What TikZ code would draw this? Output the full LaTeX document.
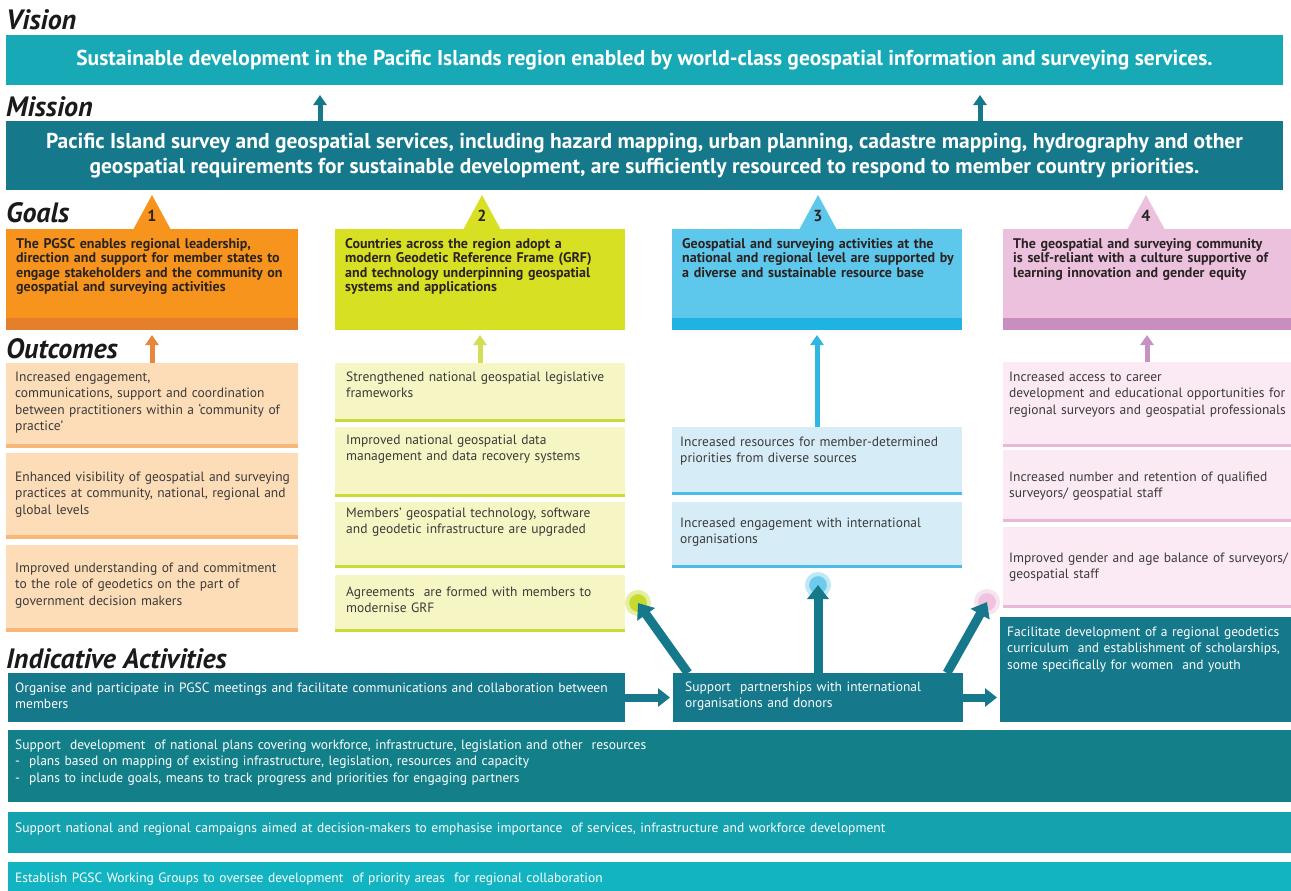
\documentclass[tikz,border=0pt]{standalone}
\usepackage{fontspec}
\setmainfont{PT Sans}
\usetikzlibrary{calc,arrows.meta}

\definecolor{visionteal}{HTML}{17A9B6}
\definecolor{missionteal}{HTML}{15788B}
\definecolor{planteal}{HTML}{138089}
\definecolor{campaignteal}{HTML}{14A2AF}
\definecolor{groupteal}{HTML}{13B4C2}
\definecolor{headink}{HTML}{1A1A1A}
\definecolor{goalink}{HTML}{2B2321}
\definecolor{outink}{HTML}{3C3A3A}
% orange column
\definecolor{orgoal}{HTML}{F7941D}
\definecolor{orstripe}{HTML}{E57F2B}
\definecolor{orfill}{HTML}{FCDDB8}
\definecolor{orline}{HTML}{F8B678}
\definecolor{orarrow}{HTML}{E8873A}
% yellow column
\definecolor{yegoal}{HTML}{D8E024}
\definecolor{yefill}{HTML}{F6F5C4}
\definecolor{yeline}{HTML}{CADB35}
\definecolor{yearrow}{HTML}{D2DE55}
\definecolor{yeglow}{HTML}{C8DA2E}
% blue column
\definecolor{blgoal}{HTML}{5DC7EC}
\definecolor{blstripe}{HTML}{1FB3E4}
\definecolor{blfill}{HTML}{D6EDF7}
\definecolor{blline}{HTML}{4CBDE4}
\definecolor{blarrow}{HTML}{2FB6E1}
\definecolor{blglow}{HTML}{6FCBEB}
% pink column
\definecolor{pigoal}{HTML}{EBC1DD}
\definecolor{pistripe}{HTML}{C98EC0}
\definecolor{pifill}{HTML}{FBEAF3}
\definecolor{piline}{HTML}{E8B9D6}
\definecolor{piarrow}{HTML}{C891C4}
\definecolor{piglow}{HTML}{EFC3DD}

\tikzset{up arrow/.style={line width=5pt,-{Triangle[width=13pt,length=10pt]}},
         big arrow/.style={line width=9pt,missionteal,-{Triangle[width=21pt,length=14pt]}},
         side arrow/.style={line width=8pt,missionteal,-{Triangle[width=18pt,length=12pt]}}}

\begin{document}
\begin{tikzpicture}[x=1pt,y=-1pt,
    heading/.style={anchor=base west,inner sep=0,text=headink,font=\fontsize{28}{28}\selectfont\bfseries\itshape},
    panel/.style 2 args={anchor=north west,inner sep=0,outer sep=0,minimum width=#1,minimum height=#2},
    goaltext/.style={anchor=base west,inner sep=0,text width=285pt,align=left,text=goalink,font=\fontsize{14}{14.5}\selectfont\bfseries},
    outtext/.style={anchor=base west,inner sep=0,text width=285pt,align=left,text=outink,font=\fontsize{13.5}{16.5}\selectfont},
    acttext/.style={anchor=base west,inner sep=0,text width=1250pt,align=left,text=white,font=\fontsize{13.5}{16.5}\selectfont},
    tabnum/.style={inner sep=0,text=goalink,font=\fontsize{16}{16}\selectfont\bfseries},
    glow/.style={circle,inner sep=0,minimum size=22pt,line width=4pt}]

\fill[white] (0,0) rectangle (1291,891);
\useasboundingbox (0,0) rectangle (1291,891);

% vision and mission
\node[heading] (VisionHead) at (6,30) {Vision};
\node[panel={1277pt}{50pt},fill=visionteal,text=white,font=\fontsize{21.5}{22}\selectfont\bfseries] (Vision) at (6,35)
  {Sustainable development in the Pacific Islands region enabled by world-class geospatial information and surveying services.};
\node[heading] (MissionHead) at (6,116) {Mission};
\node[panel={1277pt}{69pt},fill=missionteal,text=white,align=center,font=\fontsize{21.5}{25}\selectfont\bfseries] (Mission) at (6,121)
  {Pacific Island survey and geospatial services, including hazard mapping, urban planning, cadastre mapping, hydrography and other\\
   geospatial requirements for sustainable development, are sufficiently resourced to respond to member country priorities.};
\coordinate (VisionInA) at (320,95);
\coordinate (VisionInB) at (980,95);
\draw[up arrow,missionteal] (Mission.north -| VisionInA) -- (VisionInA);
\draw[up arrow,missionteal] (Mission.north -| VisionInB) -- (VisionInB);

% goals
\node[heading] (GoalsHead) at (6,222) {Goals};
\foreach \cx/\col/\num in {152/orgoal/1, 482/yegoal/2, 818/blgoal/3, 1146/pigoal/4}
  {\fill[\col] (\cx,195) -- (\cx-19,230) -- (\cx+19,230) -- cycle;
   \node[tabnum] (Tab\num) at (\cx,216) {\num};}

\node[panel={292pt}{101pt},fill=orgoal] (GoalA) at (6,229) {};
\node[panel={290pt}{101pt},fill=yegoal] (GoalB) at (335,229) {};
\node[panel={290pt}{101pt},fill=blgoal] (GoalC) at (672,229) {};
\node[panel={288pt}{101pt},fill=pigoal] (GoalD) at (1003,229) {};
\fill[orstripe] (GoalA.south west) rectangle ($(GoalA.south east)+(0,-12)$);
\fill[blstripe] (GoalC.south west) rectangle ($(GoalC.south east)+(0,-12)$);
\fill[pistripe] (GoalD.south west) rectangle ($(GoalD.south east)+(0,-12)$);

\node[goaltext] (GoalAText) [shift={(10,19)}] at (GoalA.north west)
  {The PGSC enables regional leadership,\\direction and support for member states to\\engage stakeholders and the community on\\geospatial and surveying activities};
\node[goaltext] (GoalBText) [shift={(10,19)}] at (GoalB.north west)
  {Countries across the region adopt a\\modern Geodetic Reference Frame (GRF)\\and technology underpinning geospatial\\systems and applications};
\node[goaltext] (GoalCText) [shift={(10,19)}] at (GoalC.north west)
  {Geospatial and surveying activities at the\\national and regional level are supported by\\a diverse and sustainable resource base};
\node[goaltext] (GoalDText) [shift={(10,19)}] at (GoalD.north west)
  {The geospatial and surveying community\\is self-reliant with a culture supportive of\\learning innovation and gender equity};

% outcomes
\node[heading] (OutcomesHead) at (6,358) {Outcomes};

\foreach \n/\top/\ht/\tb/\txt in {
   1/363/85/18/{Increased engagement,\\communications, support and coordination\\between practitioners within a `community of\\practice'},
   2/453/86/28/{Enhanced visibility of geospatial and surveying\\practices at community, national, regional and\\global levels},
   3/545/87/27/{Improved understanding of and commitment\\to the role of geodetics on the part of\\government decision makers}}
  {\node[panel={292pt}{\ht},fill=orfill] (OutA\n) at (6,\top) {};
   \draw[orline,line width=4pt] ([yshift=2pt]OutA\n.south west) -- ([yshift=2pt]OutA\n.south east);
   \node[outtext] (OutAText\n) [shift={(9,\tb)}] at (OutA\n.north west) {\txt};}

\foreach \n/\top/\ht/\tb/\txt in {
   1/363/59/18/{Strengthened national geospatial legislative\\frameworks},
   2/427/70/17/{Improved national geospatial data\\management and data recovery systems},
   3/502/66/15/{Members' geospatial technology, software\\and geodetic infrastructure are upgraded},
   4/575/57/21/{Agreements\ \ are formed with members to\\modernise GRF}}
  {\node[panel={290pt}{\ht},fill=yefill] (OutB\n) at (335,\top) {};
   \draw[yeline,line width=3pt] ([yshift=1.5pt]OutB\n.south west) -- ([yshift=1.5pt]OutB\n.south east);
   \node[outtext] (OutBText\n) [shift={(11,\tb)}] at (OutB\n.north west) {\txt};}

\foreach \n/\top/\ht/\tb/\txt in {
   1/427/68/19/{Increased resources for member-determined\\priorities from diverse sources},
   2/502/66/25/{Increased engagement with international\\organisations}}
  {\node[panel={290pt}{\ht},fill=blfill] (OutC\n) at (672,\top) {};
   \draw[blline,line width=3pt] ([yshift=1.5pt]OutC\n.south west) -- ([yshift=1.5pt]OutC\n.south east);
   \node[outtext] (OutCText\n) [shift={(8,\tb)}] at (OutC\n.north west) {\txt};}

\foreach \n/\top/\ht/\tb/\txt in {
   1/362/85/19/{Increased access to career\\development and educational opportunities for\\regional surveyors and geospatial professionals},
   2/450/72/31/{Increased number and retention of qualified\\surveyors/ geospatial staff},
   3/527/81/35/{Improved gender and age balance of surveyors/\\geospatial staff}}
  {\node[panel={288pt}{\ht},fill=pifill] (OutD\n) at (1003,\top) {};
   \draw[piline,line width=3pt] ([yshift=1.5pt]OutD\n.south west) -- ([yshift=1.5pt]OutD\n.south east);
   \node[outtext] (OutDText\n) [shift={(6,\tb)}] at (OutD\n.north west) {\txt};}

\coordinate (GoalAIn) at (152,335);
\coordinate (GoalBIn) at (480,335);
\coordinate (GoalCIn) at (817,335);
\coordinate (GoalDIn) at (1147,335);
\draw[up arrow,orarrow] (OutA1.north -| GoalAIn) -- (GoalAIn);
\draw[up arrow,yearrow] (OutB1.north -| GoalBIn) -- (GoalBIn);
\draw[up arrow,blarrow] (OutC1.north -| GoalCIn) -- (GoalCIn);
\draw[up arrow,piarrow] (OutD1.north -| GoalDIn) -- (GoalDIn);

% indicative activities
\node[heading] (ActivitiesHead) at (6,668) {Indicative Activities};
\node[panel={617pt}{49pt},fill=missionteal] (Organise) at (8,673) {};
\node[panel={290pt}{49pt},fill=missionteal] (Partners) at (673,673) {};
\node[panel={291pt}{105pt},fill=missionteal] (Facilitate) at (1000,617) {};
\node[panel={1283pt}{72pt},fill=planteal] (Plans) at (8,730) {};
\node[panel={1283pt}{41pt},fill=campaignteal] (Campaign) at (8,812) {};
\node[panel={1283pt}{30pt},fill=groupteal] (Groups) at (8,862) {};

\node[acttext] (OrganiseText) [shift={(7,19)}] at (Organise.north west)
  {Organise and participate in PGSC meetings and facilitate communications and collaboration between\\members};
\node[acttext] (PartnersText) [shift={(12,18)}] at (Partners.north west)
  {Support\ \ partnerships with international\\organisations and donors};
\node[acttext] (FacilitateText) [shift={(7,19)}] at (Facilitate.north west)
  {Facilitate development of a regional geodetics\\curriculum\ \ and establishment of scholarships,\\some specifically for women\ \ and youth};
\node[acttext] (PlansText) [shift={(7,19)}] at (Plans.north west)
  {Support\ \ development\ \ of national plans covering workforce, infrastructure, legislation and other\ \ resources\\
   -\ \ plans based on mapping of existing infrastructure, legislation, resources and capacity\\
   -\ \ plans to include goals, means to track progress and priorities for engaging partners};
\node[acttext] (CampaignText) [shift={(7,20)}] at (Campaign.north west)
  {Support national and regional campaigns aimed at decision-makers to emphasise importance\ \ of services, infrastructure and workforce development};
\node[acttext] (GroupsText) [shift={(7,20)}] at (Groups.north west)
  {Establish PGSC Working Groups to oversee development\ \ of priority areas\ \ for regional collaboration};

\draw[side arrow] (Organise.east |- Partners.west) -- ([xshift=-3pt]Partners.west);
\draw[side arrow] (Partners.east) -- ([xshift=-3pt]Partners.east -| Facilitate.west);

\node[glow,fill=yeglow,draw=yeglow!45] (GlowB) at (638,603) {};
\node[glow,fill=blglow,draw=blglow!45] (GlowC) at (818,585) {};
\node[glow,fill=piglow,draw=piglow!45] (GlowD) at (987,602) {};
\draw[big arrow] ($(Partners.north west)+(15,0)$) -- (GlowB.center);
\draw[big arrow] (Partners.north -| GlowC) -- (GlowC.center);
\draw[big arrow] ($(Partners.north east)+(-16,0)$) -- (GlowD.center);

\end{tikzpicture}
\end{document}
